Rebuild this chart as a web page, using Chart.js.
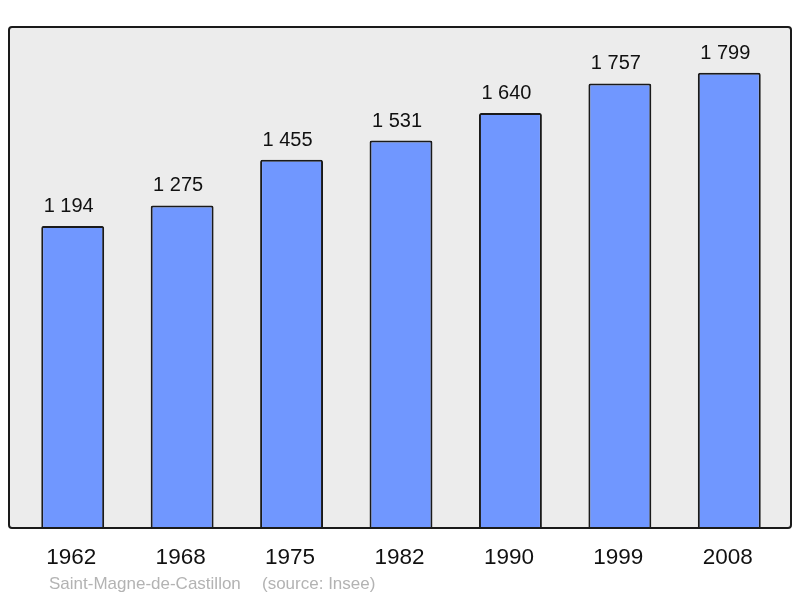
<!DOCTYPE html>
<html>
<head>
<meta charset="utf-8">
<script src="https://cdn.jsdelivr.net/npm/chart.js@4"></script>
<style>
  html, body { margin: 0; padding: 0; background: #fff; }
  #wrap { width: 800px; height: 598px; }
</style>
</head>
<body>
<div id="wrap"><canvas id="chart" width="800" height="598"></canvas></div>
<script>
// data
const years = ["1962", "1968", "1975", "1982", "1990", "1999", "2008"];
const population = [1194, 1275, 1455, 1531, 1640, 1757, 1799];
const commune = "Saint-Magne-de-Castillon";
const source = "(source: Insee)";

function fmt(n) {
    return String(n).replace(/\B(?=(\d{3})+(?!\d))/g, " ");
}

// frame behind the bars + labels
const framePlugin = {
    id: "frame",
    beforeDatasetsDraw(chart) {
        const ctx = chart.ctx;
        ctx.save();
        ctx.fillStyle = "#ececec";
        ctx.beginPath();
        ctx.roundRect(9, 27, 782, 501, 3);
        ctx.fill();
        ctx.restore();
    },
    afterDatasetsDraw(chart) {
        const ctx = chart.ctx;
        const meta = chart.getDatasetMeta(0);
        const xScale = chart.scales.x;
        ctx.save();
        ctx.strokeStyle = "#1a1a1a";
        ctx.lineWidth = 2;
        ctx.beginPath();
        ctx.roundRect(9, 27, 782, 501, 3);
        ctx.stroke();

        ctx.fillStyle = "#111";
        ctx.textAlign = "center";
        ctx.textBaseline = "alphabetic";
        ctx.font = "20px 'Liberation Sans', Arial, sans-serif";
        meta.data.forEach((bar, i) => {
            ctx.fillText(fmt(population[i]), bar.x - 4, bar.y - 14);
        });

        ctx.font = "22.5px 'Liberation Sans', Arial, sans-serif";
        years.forEach((y, i) => {
            ctx.fillText(y, xScale.getPixelForValue(i) - 1.5, 564);
        });

        ctx.fillStyle = "#b3b3b3";
        ctx.textAlign = "left";
        ctx.font = "17px 'Liberation Sans', Arial, sans-serif";
        ctx.fillText(commune, 49, 589);
        ctx.fillText(source, 262, 589);
        ctx.restore();
    }
};

new Chart(document.getElementById("chart"), {
    type: "bar",
    data: {
        labels: years,
        datasets: [{
            data: population,
            backgroundColor: "#7097ff",
            borderColor: "#1a1a1a",
            borderWidth: 2,
            borderSkipped: "bottom",
            borderRadius: 2,
            barPercentage: 0.575,
            categoryPercentage: 1
        }]
    },
    options: {
        responsive: false,
        animation: false,
        layout: { padding: { left: 18, right: 16, top: 27, bottom: 70 } },
        plugins: {
            legend: { display: false },
            tooltip: { enabled: false }
        },
        scales: {
            x: { display: false },
            y: { display: false, min: 0, max: 1980 }
        }
    },
    plugins: [framePlugin]
});
</script>
</body>
</html>
